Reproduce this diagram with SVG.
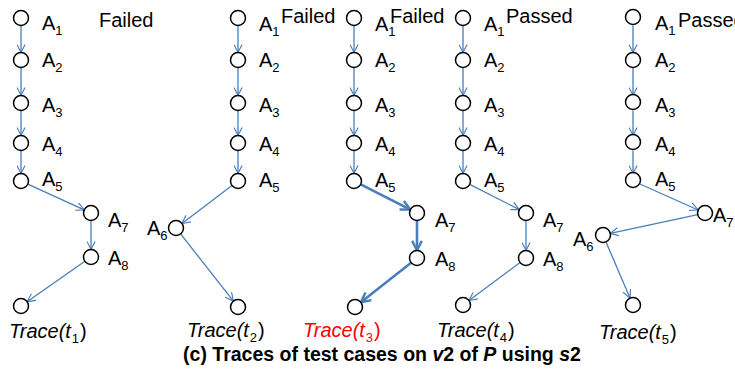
<svg xmlns="http://www.w3.org/2000/svg" width="735" height="373" viewBox="0 0 735 373">
<style>
text{font-family:"Liberation Sans",Arial,sans-serif;font-size:20px;fill:#000}
.sub{font-size:13px}
.tr{font-style:italic}
.up{font-style:normal}
.red{fill:#ff0000}
.title{font-weight:bold;font-size:19.5px}
circle{fill:#fff;stroke:#000;stroke-width:1.5}
.e{stroke:#4a7ebb;stroke-width:1.3;fill:none;marker-end:url(#arr)}
.b{stroke:#4a7ebb;stroke-width:2.6;fill:none;marker-end:url(#arrb)}
</style>
<defs>
<marker id="arr" viewBox="0 0 10 10" refX="9.5" refY="5" markerWidth="9" markerHeight="9" markerUnits="userSpaceOnUse" orient="auto">
<path d="M0.5,0.5 L9.5,5 L0.5,9.5" fill="none" stroke="#4a7ebb" stroke-width="1.3"/>
</marker>
<marker id="arrb" viewBox="0 0 10 10" refX="9" refY="5" markerWidth="12" markerHeight="12" markerUnits="userSpaceOnUse" orient="auto">
<path d="M1,1 L9,5 L1,9" fill="none" stroke="#4a7ebb" stroke-width="2"/>
</marker>
</defs>

<g id="connectors">
<line class="e" x1="21" y1="25.5" x2="21" y2="52.5"/>
<line class="e" x1="21" y1="67.5" x2="21" y2="95.5"/>
<line class="e" x1="21" y1="110.5" x2="21" y2="135.5"/>
<line class="e" x1="21" y1="150.5" x2="21" y2="173.5"/>
<line class="e" x1="27.8" y1="184.1" x2="84.2" y2="209.9"/>
<line class="e" x1="91" y1="220.5" x2="91" y2="249.5"/>
<line class="e" x1="84.9" y1="261.3" x2="27.1" y2="301.7"/>
<line class="e" x1="238" y1="25.5" x2="238" y2="52.5"/>
<line class="e" x1="238" y1="67.5" x2="238" y2="95.5"/>
<line class="e" x1="238" y1="110.5" x2="238" y2="135.5"/>
<line class="e" x1="238" y1="150.5" x2="238" y2="173.5"/>
<line class="e" x1="232" y1="185.5" x2="182" y2="223.5"/>
<line class="e" x1="180.6" y1="233.9" x2="233.4" y2="301.1"/>
<line class="e" x1="354" y1="25.5" x2="354" y2="52.5"/>
<line class="e" x1="354" y1="67.5" x2="354" y2="95.5"/>
<line class="e" x1="354" y1="110.5" x2="354" y2="135.5"/>
<line class="e" x1="354" y1="150.5" x2="354" y2="173.5"/>
<line class="b" x1="360.7" y1="184.4" x2="410.3" y2="209.6"/>
<line class="b" x1="417" y1="220.5" x2="417" y2="250.5"/>
<line class="b" x1="411.1" y1="262.7" x2="360.9" y2="302.3"/>
<line class="e" x1="463" y1="25.5" x2="463" y2="52.5"/>
<line class="e" x1="463" y1="67.5" x2="463" y2="95.5"/>
<line class="e" x1="463" y1="110.5" x2="463" y2="135.5"/>
<line class="e" x1="463" y1="150.5" x2="463" y2="173.5"/>
<line class="e" x1="469.7" y1="184.4" x2="519.3" y2="209.6"/>
<line class="e" x1="526" y1="220.5" x2="526" y2="250.5"/>
<line class="e" x1="520" y1="262.5" x2="469" y2="300.5"/>
<line class="e" x1="633" y1="25.5" x2="633" y2="52.5"/>
<line class="e" x1="633" y1="67.5" x2="633" y2="95.5"/>
<line class="e" x1="633" y1="110.5" x2="633" y2="135.5"/>
<line class="e" x1="633" y1="150.5" x2="633" y2="173.5"/>
<line class="e" x1="639.9" y1="184" x2="698.1" y2="210"/>
<line class="e" x1="697.7" y1="214.6" x2="610.3" y2="233.4"/>
<line class="e" x1="606" y1="241.9" x2="630" y2="298.1"/>
</g>

<g id="trace1">
<circle id="t1a1" cx="21" cy="18" r="7.5"/>
<circle id="t1a2" cx="21" cy="60" r="7.5"/>
<circle id="t1a3" cx="21" cy="103" r="7.5"/>
<circle id="t1a4" cx="21" cy="143" r="7.5"/>
<circle id="t1a5" cx="21" cy="181" r="7.5"/>
<circle id="t1a7" cx="91" cy="213" r="7.5"/>
<circle id="t1a8" cx="91" cy="257" r="7.5"/>
<circle id="t1end" cx="21" cy="306" r="7.5"/>
<text x="42" y="30">A<tspan class="sub" dy="5">1</tspan></text>
<text x="42" y="67">A<tspan class="sub" dy="5">2</tspan></text>
<text x="42" y="112">A<tspan class="sub" dy="5">3</tspan></text>
<text x="42" y="151">A<tspan class="sub" dy="5">4</tspan></text>
<text x="42" y="186">A<tspan class="sub" dy="5">5</tspan></text>
<text x="108" y="227">A<tspan class="sub" dy="5">7</tspan></text>
<text x="108" y="265">A<tspan class="sub" dy="5">8</tspan></text>
<text x="99" y="27">Failed</text>
<text class="tr" x="9" y="338">Trace(t<tspan class="sub up" dx="1" dy="5">1</tspan><tspan class="up" dx="1" dy="-5">)</tspan></text>
</g>

<g id="trace2">
<circle id="t2a1" cx="238" cy="18" r="7.5"/>
<circle id="t2a2" cx="238" cy="60" r="7.5"/>
<circle id="t2a3" cx="238" cy="103" r="7.5"/>
<circle id="t2a4" cx="238" cy="143" r="7.5"/>
<circle id="t2a5" cx="238" cy="181" r="7.5"/>
<circle id="t2a6" cx="176" cy="228" r="7.5"/>
<circle id="t2end" cx="238" cy="307" r="7.5"/>
<text x="259" y="31">A<tspan class="sub" dy="5">1</tspan></text>
<text x="259" y="67">A<tspan class="sub" dy="5">2</tspan></text>
<text x="259" y="112">A<tspan class="sub" dy="5">3</tspan></text>
<text x="259" y="151">A<tspan class="sub" dy="5">4</tspan></text>
<text x="259" y="187">A<tspan class="sub" dy="5">5</tspan></text>
<text x="147" y="235">A<tspan class="sub" dy="5">6</tspan></text>
<text x="281" y="23">Failed</text>
<text class="tr" x="187" y="337">Trace(t<tspan class="sub up" dx="1" dy="5">2</tspan><tspan class="up" dx="1" dy="-5">)</tspan></text>
</g>

<g id="trace3">
<circle id="t3a1" cx="354" cy="18" r="7.5"/>
<circle id="t3a2" cx="354" cy="60" r="7.5"/>
<circle id="t3a3" cx="354" cy="103" r="7.5"/>
<circle id="t3a4" cx="354" cy="143" r="7.5"/>
<circle id="t3a5" cx="354" cy="181" r="7.5"/>
<circle id="t3a7" cx="417" cy="213" r="7.5"/>
<circle id="t3a8" cx="417" cy="258" r="7.5"/>
<circle id="t3end" cx="355" cy="307" r="7.5"/>
<text x="375" y="31">A<tspan class="sub" dy="5">1</tspan></text>
<text x="375" y="67">A<tspan class="sub" dy="5">2</tspan></text>
<text x="375" y="112">A<tspan class="sub" dy="5">3</tspan></text>
<text x="375" y="151">A<tspan class="sub" dy="5">4</tspan></text>
<text x="375" y="187">A<tspan class="sub" dy="5">5</tspan></text>
<text x="435" y="227">A<tspan class="sub" dy="5">7</tspan></text>
<text x="435" y="266">A<tspan class="sub" dy="5">8</tspan></text>
<text x="390" y="23">Failed</text>
<text class="tr red" x="303" y="337">Trace(t<tspan class="sub up" dx="1" dy="5">3</tspan><tspan class="up" dx="1" dy="-5">)</tspan></text>
</g>

<g id="trace4">
<circle id="t4a1" cx="463" cy="18" r="7.5"/>
<circle id="t4a2" cx="463" cy="60" r="7.5"/>
<circle id="t4a3" cx="463" cy="103" r="7.5"/>
<circle id="t4a4" cx="463" cy="143" r="7.5"/>
<circle id="t4a5" cx="463" cy="181" r="7.5"/>
<circle id="t4a7" cx="526" cy="213" r="7.5"/>
<circle id="t4a8" cx="526" cy="258" r="7.5"/>
<circle id="t4end" cx="463" cy="305" r="7.5"/>
<text x="484" y="31">A<tspan class="sub" dy="5">1</tspan></text>
<text x="484" y="67">A<tspan class="sub" dy="5">2</tspan></text>
<text x="484" y="112">A<tspan class="sub" dy="5">3</tspan></text>
<text x="484" y="151">A<tspan class="sub" dy="5">4</tspan></text>
<text x="484" y="187">A<tspan class="sub" dy="5">5</tspan></text>
<text x="543" y="227">A<tspan class="sub" dy="5">7</tspan></text>
<text x="543" y="266">A<tspan class="sub" dy="5">8</tspan></text>
<text x="506" y="23">Passed</text>
<text class="tr" x="437" y="337">Trace(t<tspan class="sub up" dx="1" dy="5">4</tspan><tspan class="up" dx="1" dy="-5">)</tspan></text>
</g>

<g id="trace5">
<circle id="t5a1" cx="633" cy="17" r="7.5"/>
<circle id="t5a2" cx="633" cy="60" r="7.5"/>
<circle id="t5a3" cx="633" cy="102" r="7.5"/>
<circle id="t5a4" cx="633" cy="142" r="7.5"/>
<circle id="t5a5" cx="633" cy="180" r="7.5"/>
<circle id="t5a7" cx="705" cy="213" r="7.5"/>
<circle id="t5a6" cx="603" cy="235" r="7.5"/>
<circle id="t5end" cx="633" cy="305" r="7.5"/>
<text x="655" y="30">A<tspan class="sub" dy="5">1</tspan></text>
<text x="655" y="67">A<tspan class="sub" dy="5">2</tspan></text>
<text x="655" y="112">A<tspan class="sub" dy="5">3</tspan></text>
<text x="655" y="151">A<tspan class="sub" dy="5">4</tspan></text>
<text x="655" y="186">A<tspan class="sub" dy="5">5</tspan></text>
<text x="713" y="222">A<tspan class="sub" dy="5">7</tspan></text>
<text x="573" y="246">A<tspan class="sub" dy="5">6</tspan></text>
<text x="678" y="27">Passed</text>
<text class="tr" x="599" y="339">Trace(t<tspan class="sub up" dx="1" dy="5">5</tspan><tspan class="up" dx="1" dy="-5">)</tspan></text>
</g>

<g id="caption">
<text class="title" x="382" y="361" text-anchor="middle">(c) Traces of test cases on <tspan font-style="italic">v</tspan>2 of <tspan font-style="italic">P</tspan> using <tspan font-style="italic">s</tspan>2</text>
</g>
</svg>
